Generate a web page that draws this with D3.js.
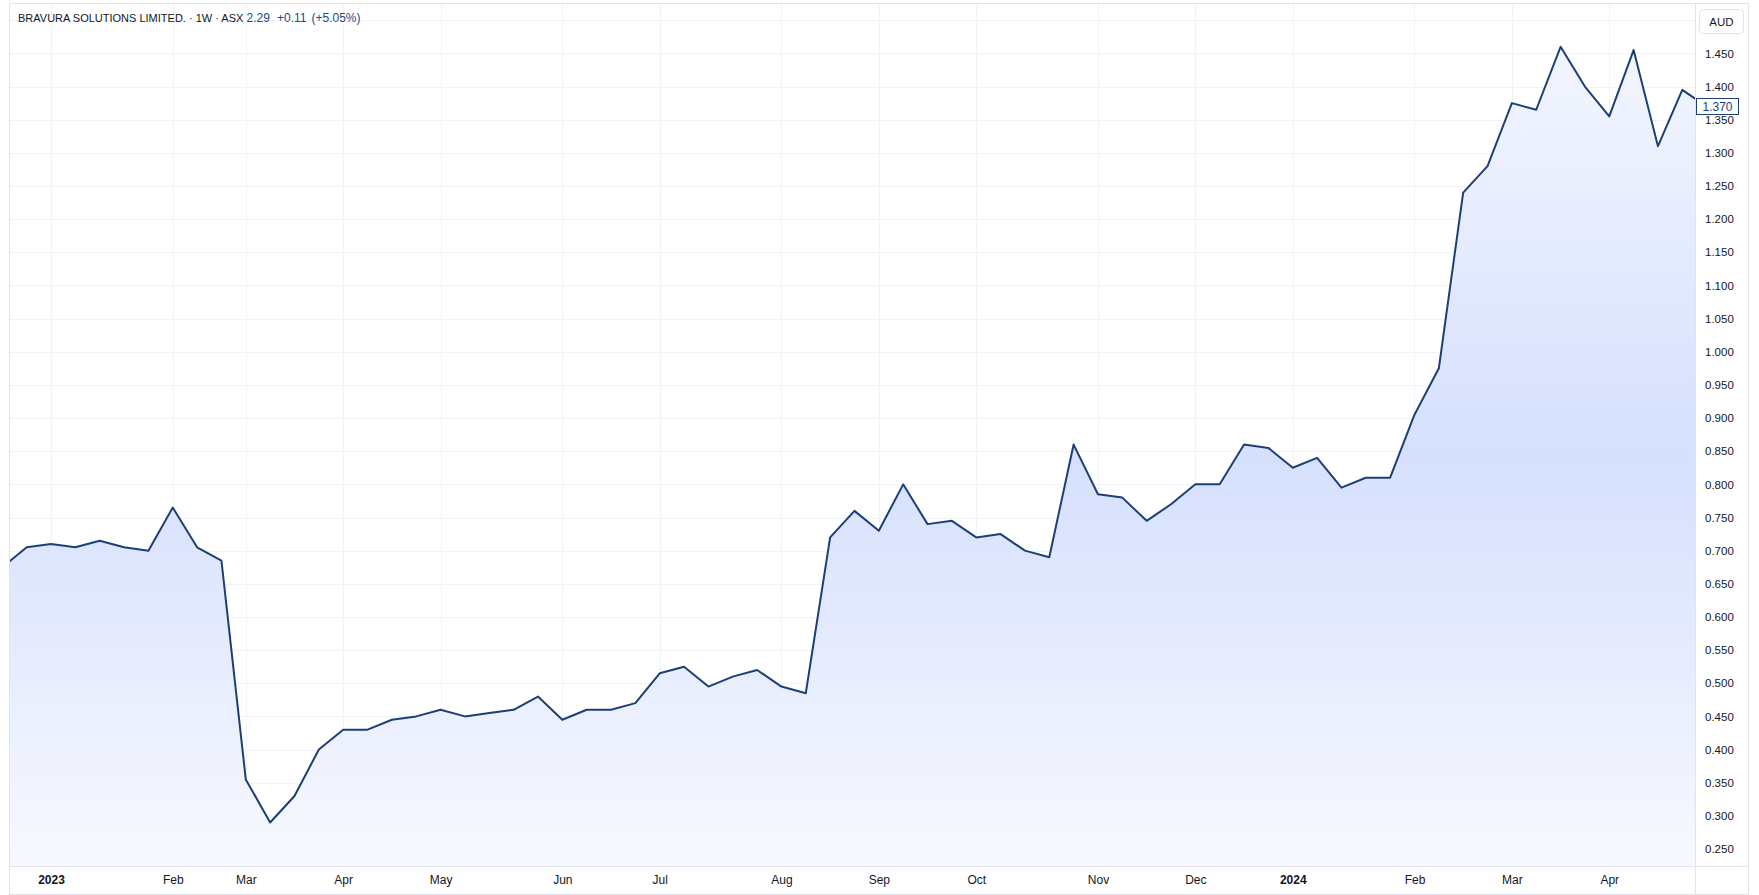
<!DOCTYPE html>
<html>
<head>
<meta charset="utf-8">
<script src="https://cdn.jsdelivr.net/npm/d3@7"></script>
<style>
  html, body { margin: 0; padding: 0; background: #ffffff; }
  svg { display: block; font-family: "Liberation Sans", Arial, sans-serif; }
</style>
</head>
<body>
<svg id="chart" width="1759" height="895"></svg>
<script>
// ---- data ----
const seriesStart = "2022-12-19"; // first weekly bar
const closes = [
  0.675, 0.705, 0.71, 0.705, 0.715, 0.705, 0.70, 0.765, 0.705, 0.685,
  0.355, 0.29, 0.33, 0.40, 0.43, 0.43, 0.445, 0.45, 0.46, 0.45,
  0.455, 0.46, 0.48, 0.445, 0.46, 0.46, 0.47, 0.515, 0.525, 0.495,
  0.51, 0.52, 0.495, 0.485, 0.72, 0.76, 0.73, 0.80, 0.74, 0.745,
  0.72, 0.725, 0.70, 0.69, 0.86, 0.785, 0.78, 0.745, 0.77, 0.80,
  0.80, 0.86, 0.855, 0.825, 0.84, 0.795, 0.81, 0.81, 0.905, 0.975,
  1.24, 1.28, 1.375, 1.365, 1.46, 1.40, 1.355, 1.455, 1.31, 1.395,
  1.37
];
const tickDates = ["2023-01-02","2023-02-06","2023-02-27","2023-03-27","2023-04-24","2023-05-29",
  "2023-06-26","2023-07-31","2023-08-28","2023-09-25","2023-10-30","2023-11-27",
  "2023-12-25","2024-01-29","2024-02-26","2024-03-25"];
const tickLabels = ["2023","Feb","Mar","Apr","May","Jun","Jul","Aug","Sep","Oct","Nov","Dec",
  "2024","Feb","Mar","Apr"];
const yTicks = [0.25,0.30,0.35,0.40,0.45,0.50,0.55,0.60,0.65,0.70,0.75,0.80,0.85,0.90,0.95,
  1.00,1.05,1.10,1.15,1.20,1.25,1.30,1.35,1.40,1.45];
const yGridExtra = [1.50];
const titleText = "BRAVURA SOLUTIONS LIMITED. · 1W · ASX";
const quoteText = ["2.29", "+0.11", "(+5.05%)"];
const currency = "AUD";
const lastPrice = 1.37;

// ---- layout ----
const plot = { left: 10, right: 1695.5, top: 4, bottom: 866.5 };
const lineColor = "#1c3f78";
const gridColor = "#f0f3fa";
const borderColor = "#e0e3eb";
const textColor = "#131722";

const svg = d3.select("#chart");
const parse = d3.utcParse("%Y-%m-%d");
const start = parse(seriesStart);
const data = closes.map((v, k) => ({ date: d3.utcDay.offset(start, 7 * k), v }));

const x = d3.scaleUtc()
  .domain([d3.utcHour.offset(data[0].date, 53), d3.utcHour.offset(data[data.length - 1].date, -77)])
  .range([plot.left, plot.right]);
const y = d3.scaleLinear().domain([0.25, 1.45]).range([849, 53.4]);

// defs
const defs = svg.append("defs");
defs.append("clipPath").attr("id", "plotClip")
  .append("rect").attr("x", plot.left).attr("y", plot.top)
  .attr("width", plot.right - plot.left).attr("height", plot.bottom - plot.top);
const grad = defs.append("linearGradient").attr("id", "areaGrad")
  .attr("gradientUnits", "userSpaceOnUse")
  .attr("x1", 0).attr("x2", 0).attr("y1", y(1.46)).attr("y2", plot.bottom);
grad.append("stop").attr("offset", "0%").attr("stop-color", "#f3f6ff");
grad.append("stop").attr("offset", "50%").attr("stop-color", "#d6e0fd");
grad.append("stop").attr("offset", "100%").attr("stop-color", "#f8f9ff");

// grid
const gridG = svg.append("g");
gridG.selectAll("line.h").data(yTicks.concat(yGridExtra)).join("line")
  .attr("x1", plot.left).attr("x2", plot.right)
  .attr("y1", d => Math.round(y(d)) + 0.5).attr("y2", d => Math.round(y(d)) + 0.5)
  .attr("stroke", gridColor).attr("stroke-width", 1);
gridG.selectAll("line.v").data(tickDates.map(parse)).join("line")
  .attr("x1", d => Math.round(x(d)) + 0.5).attr("x2", d => Math.round(x(d)) + 0.5)
  .attr("y1", plot.top).attr("y2", plot.bottom)
  .attr("stroke", gridColor).attr("stroke-width", 1);

// area + line
const g = svg.append("g").attr("clip-path", "url(#plotClip)");
g.append("path").datum(data)
  .attr("fill", "url(#areaGrad)")
  .attr("d", d3.area().x(d => x(d.date)).y0(plot.bottom).y1(d => y(d.v)));
g.append("path").datum(data)
  .attr("fill", "none").attr("stroke", lineColor).attr("stroke-width", 2)
  .attr("stroke-linejoin", "round")
  .attr("d", d3.line().x(d => x(d.date)).y(d => y(d.v)));

// frame and separators
svg.append("rect").attr("x", 9.5).attr("y", 3.5).attr("width", 1748.5 - 9.5).attr("height", 894.5 - 3.5)
  .attr("fill", "none").attr("stroke", borderColor);
svg.append("line").attr("x1", plot.right).attr("x2", plot.right).attr("y1", 3.5).attr("y2", 894.5)
  .attr("stroke", borderColor);
svg.append("line").attr("x1", 9.5).attr("x2", 1748.5).attr("y1", plot.bottom).attr("y2", plot.bottom)
  .attr("stroke", borderColor);

// y axis (right)
const yAxis = d3.axisRight(y).tickValues(yTicks).tickFormat(d3.format(".3f")).tickSize(0).tickPadding(0);
const yg = svg.append("g").attr("transform", `translate(1705,0)`).call(yAxis);
yg.select(".domain").remove();
yg.selectAll("text").attr("font-size", 11.5).attr("fill", textColor).attr("font-family", "Liberation Sans, Arial, sans-serif");

// x axis (bottom)
const xAxis = d3.axisBottom(x).tickValues(tickDates.map(parse))
  .tickFormat((d, i) => tickLabels[i]).tickSize(0).tickPadding(0);
const xg = svg.append("g").attr("transform", `translate(0,${plot.bottom})`).call(xAxis);
xg.select(".domain").remove();
xg.selectAll("text").attr("font-size", 12).attr("fill", textColor)
  .attr("font-family", "Liberation Sans, Arial, sans-serif")
  .attr("dy", "1.45em")
  .attr("font-weight", (d, i) => /^\d{4}$/.test(tickLabels[i]) ? "bold" : "normal");

// currency box
svg.append("rect").attr("x", 1699.5).attr("y", 9.5).attr("width", 44).attr("height", 24).attr("rx", 4)
  .attr("fill", "#ffffff").attr("stroke", borderColor);
svg.append("text").attr("x", 1721.5).attr("y", 25.5).attr("text-anchor", "middle")
  .attr("font-size", 11.5).attr("fill", textColor).text(currency);

// last price label
const ly = y(lastPrice);
svg.append("rect").attr("x", 1696.5).attr("y", Math.round(ly) - 7.5).attr("width", 42).attr("height", 16)
  .attr("fill", "#ffffff").attr("stroke", lineColor);
svg.append("text").attr("x", 1717.5).attr("y", ly + 4.5).attr("text-anchor", "middle")
  .attr("font-size", 12).attr("fill", lineColor).text(d3.format(".3f")(lastPrice));

// title
svg.append("text").attr("x", 18).attr("y", 22).attr("font-size", 11)
  .attr("fill", textColor).text(titleText);
const qColor = "#23498a";
const qx = [246.5, 277, 311.5];
svg.selectAll("text.q").data(quoteText).join("text").attr("class", "q")
  .attr("x", (d, i) => qx[i]).attr("y", 22).attr("font-size", 12)
  .attr("fill", qColor).text(d => d);
</script>
</body>
</html>
